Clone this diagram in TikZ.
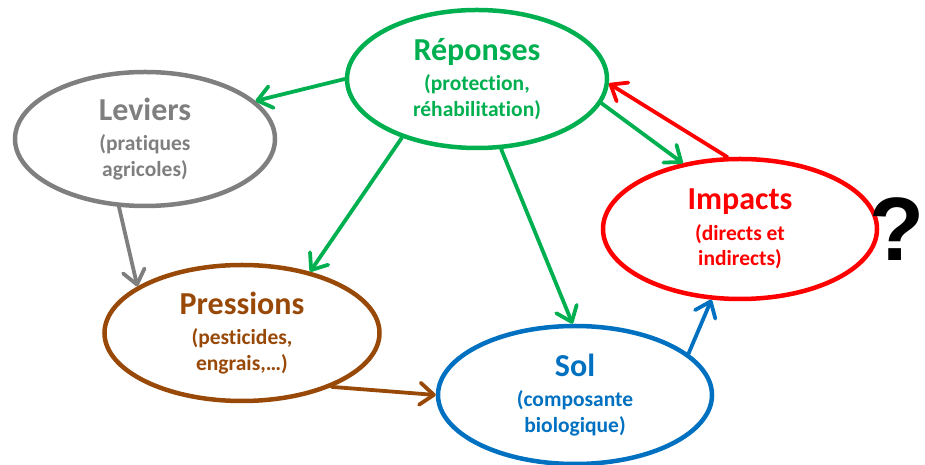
\documentclass[tikz,border=0pt]{standalone}
\usepackage{fontspec}
\setmainfont{Carlito}[Ligatures={NoCommon}]
\newfontfamily\qfont{Liberation Sans}
\usepackage{xcolor}
\usepackage{tikz}
\usetikzlibrary{shapes.geometric, arrows.meta}
\definecolor{vert}{HTML}{00B050}
\definecolor{gris}{HTML}{7F7F7F}
\definecolor{rouge}{HTML}{FF0000}
\definecolor{brun}{HTML}{984807}
\definecolor{bleu}{HTML}{0070C0}

\begin{document}
\begin{tikzpicture}[x=1pt, y=1pt,
        bulle/.style={ellipse, draw=#1, text=#1, line width=4.5pt, inner sep=0pt, align=center,
            font=\bfseries\fontsize{21.5}{25.5}\selectfont},
        fleche/.style={draw=#1, line width=3.8pt, line cap=round,
            -{Straight Barb[length=14pt, width=22pt, round]}}]
        \useasboundingbox (0,0) rectangle (925,465);

        % Draw the bubbles
        \node[bulle=vert, minimum width=260pt, minimum height=138pt] (rep) at (477,386)
            {{\fontsize{32}{32}\selectfont Réponses}\\[5pt] (protection,\\ réhabilitation)};
        \node[bulle=gris, minimum width=260pt, minimum height=134pt] (lev) at (145,326)
            {{\fontsize{32}{32}\selectfont Leviers}\\[5pt] (pratiques\\ agricoles)};
        \node[bulle=rouge, minimum width=274pt, minimum height=140pt] (imp) at (740,236)
            {{\fontsize{32}{32}\selectfont Impacts}\\[5pt] (directs et\\ indirects)};
        \node[bulle=brun, minimum width=275pt, minimum height=136pt] (pre) at (242,132)
            {{\fontsize{32}{32}\selectfont Pressions}\\[5pt] (pesticides,\\ engrais,…)};
        \node[bulle=bleu, minimum width=274pt, minimum height=138pt] (sol) at (575,70)
            {{\fontsize{32}{32}\selectfont Sol}\\[5pt] (composante\\ biologique)};

        % The question mark
        \node[inner sep=0pt, font=\qfont\bfseries\fontsize{90}{90}\selectfont] (q) at (897,236) {?};

        % Draw the arrows
        \draw[fleche=vert] (rep.180) -- (lev.19);
        \draw[fleche=vert] (rep.218) -- (pre.42);
        \draw[fleche=vert] (rep.289) -- (sol.92);
        \draw[fleche=vert] (rep.349) -- (imp.131);
        \draw[fleche=rouge] (imp.100) -- (rep.358);
        \draw[fleche=gris] (lev.249) -- (pre.156);
        \draw[fleche=brun] (pre.329) -- (sol.180);
        \draw[fleche=bleu] (sol.20) -- (imp.248);
    \end{tikzpicture}
\end{document}
